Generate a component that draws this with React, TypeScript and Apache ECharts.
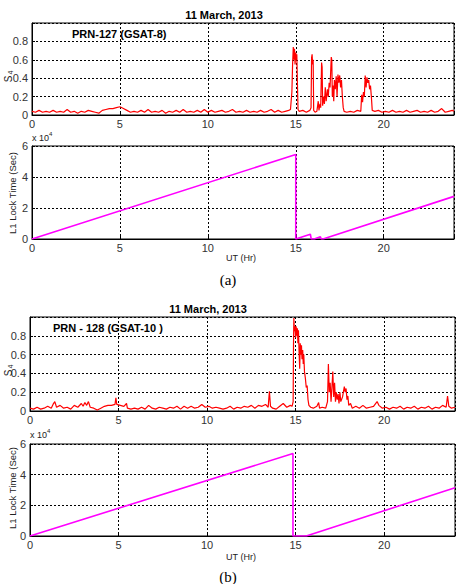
import React, { useEffect, useRef } from 'react';
import * as echarts from 'echarts';

const TITLE = '11 March, 2013';
const PRN_A = 'PRN-127 (GSAT-8)';
const PRN_B = 'PRN - 128 (GSAT-10 )';
const X_NAME = 'UT (Hr)';
const LOCK_NAME = 'L1 Lock Time (Sec)';
const CAPTION_A = '(a)';
const CAPTION_B = '(b)';

// S4 for PRN-127 : [UT hour, S4]
const s4A: number[][] = [
  [0, 0.04], [0.2, 0.03], [0.4, 0.05], [0.6, 0.03], [0.8, 0.04], [1.0, 0.03], [1.2, 0.05], [1.4, 0.03],
  [1.6, 0.04], [1.8, 0.03], [2.0, 0.06], [2.2, 0.03], [2.4, 0.04], [2.6, 0.02], [2.8, 0.04], [3.0, 0.03],
  [3.2, 0.05], [3.4, 0.04], [3.6, 0.03], [3.8, 0.02], [4.0, 0.05], [4.2, 0.06], [4.4, 0.07], [4.6, 0.07],
  [4.8, 0.08], [5.0, 0.09], [5.2, 0.07], [5.4, 0.05], [5.6, 0.03], [5.8, 0.04], [6.0, 0.03], [6.2, 0.05],
  [6.4, 0.03], [6.6, 0.06], [6.8, 0.03], [7.0, 0.04], [7.2, 0.03], [7.4, 0.05], [7.6, 0.02], [7.8, 0.04],
  [8.0, 0.03], [8.2, 0.05], [8.4, 0.03], [8.6, 0.06], [8.8, 0.03], [9.0, 0.04], [9.2, 0.03], [9.4, 0.05],
  [9.6, 0.03], [9.8, 0.06], [10.0, 0.03], [10.2, 0.05], [10.4, 0.03], [10.6, 0.04], [10.8, 0.05], [11.0, 0.03],
  [11.2, 0.04], [11.4, 0.06], [11.6, 0.03], [11.8, 0.04], [12.0, 0.03], [12.2, 0.05], [12.4, 0.03], [12.6, 0.04],
  [12.8, 0.03], [13.0, 0.05], [13.2, 0.03], [13.4, 0.04], [13.6, 0.06], [13.8, 0.03], [14.0, 0.05], [14.2, 0.03],
  [14.4, 0.04], [14.6, 0.05], [14.7, 0.06], [14.78, 0.25], [14.82, 0.55], [14.86, 0.74], [14.9, 0.6], [14.93, 0.72],
  [14.96, 0.55], [15.0, 0.68], [15.03, 0.6], [15.06, 0.66], [15.1, 0.3], [15.13, 0.06], [15.2, 0.04], [15.4, 0.05],
  [15.6, 0.03], [15.8, 0.05], [15.87, 0.08], [15.9, 0.62], [15.93, 0.66], [15.96, 0.55], [15.99, 0.6], [16.02, 0.05],
  [16.1, 0.03], [16.2, 0.04], [16.28, 0.15], [16.32, 0.05], [16.38, 0.12], [16.42, 0.08], [16.47, 0.57], [16.5, 0.52],
  [16.53, 0.1], [16.58, 0.2], [16.63, 0.12], [16.68, 0.3], [16.73, 0.15], [16.8, 0.28], [16.85, 0.2], [16.9, 0.35],
  [16.95, 0.3], [17.02, 0.63], [17.05, 0.6], [17.08, 0.2], [17.12, 0.32], [17.16, 0.15], [17.2, 0.38], [17.25, 0.28],
  [17.3, 0.42], [17.35, 0.2], [17.4, 0.44], [17.45, 0.35], [17.5, 0.43], [17.55, 0.3], [17.6, 0.38], [17.65, 0.2],
  [17.7, 0.08], [17.75, 0.04], [17.9, 0.03], [18.1, 0.04], [18.3, 0.03], [18.5, 0.05], [18.7, 0.04], [18.75, 0.22],
  [18.8, 0.14], [18.85, 0.25], [18.9, 0.2], [18.95, 0.43], [19.0, 0.3], [19.05, 0.41], [19.1, 0.35], [19.15, 0.38],
  [19.2, 0.28], [19.25, 0.32], [19.3, 0.2], [19.35, 0.05], [19.5, 0.04], [19.7, 0.05], [19.9, 0.03], [20.1, 0.04],
  [20.3, 0.03], [20.5, 0.05], [20.7, 0.03], [20.9, 0.04], [21.1, 0.03], [21.3, 0.05], [21.5, 0.03], [21.7, 0.04],
  [21.9, 0.05], [22.1, 0.03], [22.3, 0.04], [22.5, 0.03], [22.7, 0.05], [22.9, 0.03], [23.1, 0.04], [23.3, 0.07],
  [23.5, 0.03], [23.7, 0.04], [23.9, 0.05], [24, 0.04],
];

// S4 for PRN-128 : [UT hour, S4]
const s4B: number[][] = [
  [0, 0.03], [0.2, 0.02], [0.4, 0.04], [0.6, 0.02], [0.8, 0.03], [1.0, 0.05], [1.2, 0.03], [1.3, 0.07],
  [1.4, 0.1], [1.5, 0.04], [1.7, 0.06], [1.9, 0.03], [2.1, 0.04], [2.3, 0.02], [2.5, 0.06], [2.7, 0.04],
  [2.9, 0.08], [3.0, 0.05], [3.1, 0.09], [3.2, 0.06], [3.3, 0.1], [3.4, 0.04], [3.6, 0.03], [3.8, 0.01],
  [4.0, 0.03], [4.2, 0.05], [4.4, 0.06], [4.6, 0.06], [4.8, 0.07], [4.85, 0.14], [4.9, 0.07], [5.1, 0.06],
  [5.3, 0.05], [5.45, 0.08], [5.5, 0.03], [5.7, 0.02], [5.9, 0.03], [6.1, 0.02], [6.3, 0.04], [6.5, 0.02],
  [6.7, 0.06], [6.9, 0.03], [7.1, 0.02], [7.3, 0.04], [7.5, 0.03], [7.7, 0.02], [7.9, 0.04], [8.1, 0.03],
  [8.3, 0.05], [8.5, 0.02], [8.7, 0.05], [8.9, 0.03], [9.1, 0.05], [9.3, 0.03], [9.5, 0.04], [9.7, 0.07],
  [9.9, 0.04], [10.1, 0.05], [10.3, 0.03], [10.5, 0.04], [10.7, 0.03], [10.9, 0.02], [11.1, 0.03], [11.3, 0.05],
  [11.5, 0.02], [11.7, 0.04], [11.9, 0.03], [12.1, 0.05], [12.3, 0.04], [12.5, 0.06], [12.7, 0.03], [12.9, 0.06],
  [13.1, 0.05], [13.3, 0.07], [13.45, 0.04], [13.52, 0.21], [13.58, 0.05], [13.7, 0.03], [13.9, 0.02], [14.1, 0.05],
  [14.3, 0.08], [14.5, 0.04], [14.7, 0.06], [14.8, 0.05], [14.86, 0.1], [14.88, 0.7], [14.9, 0.99], [14.93, 0.85],
  [14.96, 0.9], [15.0, 0.78], [15.03, 0.9], [15.06, 0.8], [15.1, 0.88], [15.13, 0.72], [15.16, 0.86], [15.2, 0.6],
  [15.23, 0.45], [15.26, 0.72], [15.3, 0.6], [15.33, 0.7], [15.36, 0.55], [15.4, 0.65], [15.43, 0.5], [15.46, 0.6],
  [15.5, 0.42], [15.55, 0.35], [15.6, 0.25], [15.65, 0.27], [15.7, 0.12], [15.75, 0.06], [15.85, 0.04], [16.0, 0.03],
  [16.2, 0.05], [16.3, 0.09], [16.35, 0.03], [16.5, 0.04], [16.7, 0.03], [16.8, 0.1], [16.85, 0.5], [16.9, 0.2],
  [16.95, 0.3], [17.0, 0.1], [17.05, 0.25], [17.1, 0.42], [17.15, 0.15], [17.2, 0.3], [17.25, 0.1], [17.3, 0.2],
  [17.35, 0.12], [17.4, 0.18], [17.45, 0.08], [17.5, 0.2], [17.55, 0.1], [17.65, 0.15], [17.75, 0.26], [17.8, 0.2],
  [17.85, 0.24], [17.9, 0.12], [17.95, 0.16], [18.0, 0.06], [18.1, 0.08], [18.2, 0.03], [18.4, 0.05], [18.6, 0.03],
  [18.8, 0.06], [19.0, 0.03], [19.2, 0.04], [19.4, 0.05], [19.6, 0.1], [19.7, 0.06], [19.9, 0.03], [20.1, 0.04],
  [20.3, 0.02], [20.5, 0.04], [20.7, 0.03], [20.9, 0.05], [21.1, 0.02], [21.3, 0.04], [21.5, 0.03], [21.7, 0.05],
  [21.9, 0.02], [22.1, 0.04], [22.3, 0.03], [22.5, 0.05], [22.7, 0.02], [22.9, 0.04], [23.1, 0.03], [23.3, 0.06],
  [23.5, 0.04], [23.58, 0.16], [23.65, 0.05], [23.8, 0.03], [24, 0.04],
];

// L1 lock time (seconds) : [UT hour, seconds]
const lockA: number[][] = [
  [0, 0], [15.0, 54500], [15.0, 0], [15.83, 3100], [15.88, 0], [16.05, 0], [16.4, 1500], [16.45, 0],
  [16.55, 0], [24, 27500],
];
const lockB: number[][] = [
  [0, 0], [14.85, 53800], [14.85, 0], [15.6, 0], [24, 31500],
];

const FONT = '"Liberation Sans", Arial, sans-serif';

function App() {
  const ref = useRef<HTMLDivElement>(null);

  useEffect(() => {
    if (!ref.current) return;
    const chart = echarts.init(ref.current, undefined, { renderer: 'svg' });

    const grids = [
      { left: 32, top: 23, width: 422, height: 92 },
      { left: 32, top: 146, width: 422, height: 93 },
      { left: 30, top: 317, width: 425, height: 94 },
      { left: 30, top: 444, width: 425, height: 92 },
    ];

    const gridLine = { show: true, lineStyle: { color: '#000', type: [2, 2] as any, width: 1 } };

    const xAxes = grids.map((_, i) => ({
      type: 'value',
      gridIndex: i,
      min: 0,
      max: 24,
      interval: 5,
      axisLine: { show: true, onZero: false, lineStyle: { color: '#000' } },
      axisTick: { show: true, inside: true, length: 3, lineStyle: { color: '#000' } },
      axisLabel: {
        color: '#333', fontSize: 11, fontFamily: FONT, margin: 3,
        formatter: (v: number) => (v > 23 ? '' : String(v)),
      },
      splitLine: gridLine,
    }));

    const yAxes = grids.map((_, i) => {
      const isS4 = i % 2 === 0;
      return {
        type: 'value',
        gridIndex: i,
        min: 0,
        max: isS4 ? 1 : 60000,
        interval: isS4 ? 0.2 : 20000,
        axisLine: { show: true, lineStyle: { color: '#000' } },
        axisTick: { show: true, inside: true, length: 3, lineStyle: { color: '#000' } },
        axisLabel: {
          color: '#333', fontSize: 11, fontFamily: FONT, margin: 4,
          formatter: isS4
            ? (v: number) => (v > 0.95 ? '' : String(Math.round(v * 10) / 10))
            : (v: number) => String(Math.round(v / 10000)),
        },
        splitLine: gridLine,
      };
    });

    const datasets = [s4A, lockA, s4B, lockB];
    const series = datasets.map((d, i) => ({
      type: 'line',
      xAxisIndex: i,
      yAxisIndex: i,
      data: d,
      showSymbol: false,
      symbol: 'none',
      lineStyle: { color: i % 2 === 0 ? '#ff0000' : '#ff00ff', width: i % 2 === 0 ? 1.2 : 1.6 },
      z: 3,
    }));

    const txt = (x: number, y: number, text: string, size: number, extra: any = {}, rot = 0) => ({
      type: 'text',
      x,
      y,
      rotation: rot,
      z: 10,
      style: {
        text,
        fontSize: size,
        fontFamily: FONT,
        fill: '#000',
        textAlign: 'left',
        textVerticalAlign: 'middle',
        ...extra,
      },
    });

    const graphic = [
      txt(224, 15, TITLE, 11, { fontWeight: 'bold', textAlign: 'center' }),
      txt(72, 34, PRN_A, 11, { fontWeight: 'bold' }),
      txt(208, 309, TITLE, 11, { fontWeight: 'bold', textAlign: 'center' }),
      txt(53, 328, PRN_B, 11, { fontWeight: 'bold' }),
      // S4 labels
      txt(8, 79, 'S', 10, { textAlign: 'center', fill: '#222' }, Math.PI / 2),
      txt(10.5, 72.5, '4', 7, { textAlign: 'center', fill: '#222' }, Math.PI / 2),
      txt(8, 373, 'S', 10, { textAlign: 'center', fill: '#222' }, Math.PI / 2),
      txt(10.5, 366.5, '4', 7, { textAlign: 'center', fill: '#222' }, Math.PI / 2),
      // lock labels
      txt(12, 193, LOCK_NAME, 9.5, { textAlign: 'center', fill: '#222' }, Math.PI / 2),
      txt(12, 488, LOCK_NAME, 9.5, { textAlign: 'center', fill: '#222' }, Math.PI / 2),
      // x 10^4
      txt(32, 138, 'x 10', 9, { fill: '#222' }),
      txt(49, 134, '4', 6, { fill: '#222' }),
      txt(30, 435, 'x 10', 9, { fill: '#222' }),
      txt(47, 431, '4', 6, { fill: '#222' }),
      // x names
      txt(241, 258, X_NAME, 9, { textAlign: 'center', fill: '#222' }),
      txt(241, 557, X_NAME, 9, { textAlign: 'center', fill: '#222' }),
      // captions
      txt(228, 280, CAPTION_A, 15, { textAlign: 'center', fontFamily: '"Liberation Serif", "Times New Roman", serif' }),
      txt(228, 577, CAPTION_B, 15, { textAlign: 'center', fontFamily: '"Liberation Serif", "Times New Roman", serif' }),
    ];

    chart.setOption({
      animation: false,
      backgroundColor: '#fff',
      grid: grids.map((g) => ({ ...g, show: true, borderColor: '#000', borderWidth: 1, backgroundColor: '#fff' })),
      xAxis: xAxes,
      yAxis: yAxes,
      series,
      graphic,
    } as any);

    return () => chart.dispose();
  }, []);

  return (
    <div
      ref={ref}
      style={{ position: 'absolute', left: 0, top: 0, width: 462, height: 584, background: '#fff' }}
    />
  );
}

export default App;
